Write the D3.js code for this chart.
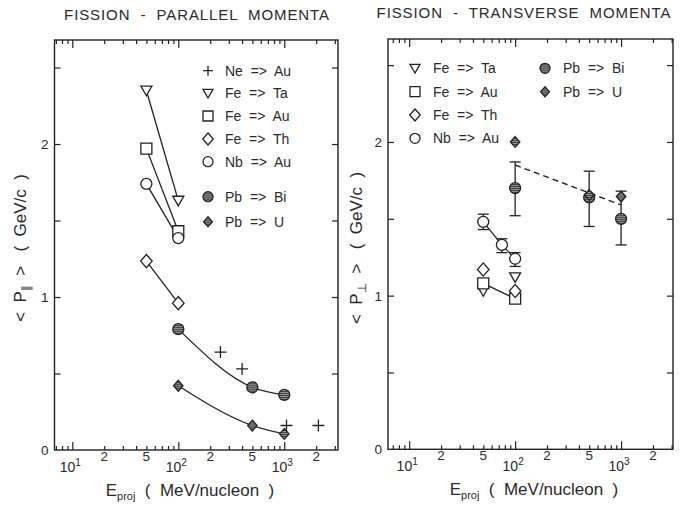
<!DOCTYPE html>
<html>
<head>
<meta charset="utf-8">
<script src="https://cdn.jsdelivr.net/npm/d3@7"></script>
<style>
  html, body { margin: 0; padding: 0; background: #fff; }
  svg { display: block; }
  text { font-family: "Liberation Sans", "DejaVu Sans", sans-serif; fill: #2a2a2a; }
</style>
</head>
<body>
<svg id="chart" width="682" height="509"></svg>
<script>
// ---- data (energies in MeV/nucleon, momenta in GeV/c) ----
const energyFe = [50, 100];
const energyNb = [50, 75, 100];
const energyPb = [100, 500, 1000];
const energyNe = [250, 400, 1050, 2100];

// parallel momenta
const parNeAu = [0.64, 0.53, 0.16, 0.16];
const parFeTa = [2.35, 1.63];
const parFeAu = [1.97, 1.43];
const parFeTh = [1.235, 0.96];
const parNbAu = [1.74, 1.385];
const parPbBi = [0.79, 0.41, 0.36];
const parPbU  = [0.42, 0.16, 0.105];

// transverse momenta
const trFeTa = [1.03, 1.12];
const trFeAu = [1.08, 0.98];
const trFeTh = [1.17, 1.03];
const trNbAu = [1.48, 1.33, 1.24];
const trNbAuLo = [1.43, 1.28, 1.19];
const trNbAuHi = [1.53, 1.37, 1.28];
const trPbBi = [1.70, 1.64, 1.50];
const trPbBiLo = [1.52, 1.45, 1.33];
const trPbBiHi = [1.87, 1.81, 1.68];
const trPbU  = [2.00, 1.655, 1.645];
const fitE = [100, 1000];
const fitP = [1.85, 1.59];

const yTicks = [0, 0.5, 1, 1.5, 2, 2.5];
const yTickLabels = [0, 1, 2];
const xMajor = [10, 100, 1000];
const xMinorLabels = [20, 50, 200, 500, 2000];

const svg = d3.select("#chart");
const INK = "#222";

// hatched fill for the Pb projectile markers
const defs = svg.append("defs");
const pat = defs.append("pattern").attr("id", "hatch").attr("patternUnits", "userSpaceOnUse")
  .attr("width", 2).attr("height", 2);
pat.append("rect").attr("width", 2).attr("height", 2).attr("fill", "#9a9a9a");
pat.append("rect").attr("width", 2).attr("height", 1).attr("fill", "#3a3a3a");

// ---- marker shapes ----
function markerPath(type, r) {
  switch (type) {
    case "tri": return `M${-r},${-r*0.8}L${r},${-r*0.8}L0,${r*0.95}Z`;
    case "sq": return `M${-r},${-r}H${r}V${r}H${-r}Z`;
    case "dia": return `M0,${-r*1.2}L${r*1.05},0L0,${r*1.2}L${-r*1.05},0Z`;
    case "circ": return d3.arc()({innerRadius: 0, outerRadius: r, startAngle: 0, endAngle: 2 * Math.PI});
    case "cross": return `M${-r},0H${r}M0,${-r}V${r}`;
  }
}
function drawMarker(g, type, x, y, opts = {}) {
  const r = opts.r || 5.5;
  g.append("path")
    .attr("d", markerPath(type, r))
    .attr("transform", `translate(${x},${y})`)
    .attr("fill", opts.fill || (type === "cross" ? "none" : "#fff"))
    .attr("stroke", INK)
    .attr("stroke-width", opts.sw || 1.3);
}

// ---- one panel ----
function panel(cfg) {
  const g = svg.append("g");
  const x = d3.scaleLog().domain(cfg.xDom).range([cfg.x0, cfg.x1]);
  const y = d3.scaleLinear().domain(cfg.yDom).range([cfg.yBot, cfg.yTop]);

  // frame
  g.append("rect").attr("x", cfg.x0).attr("y", cfg.yTop)
    .attr("width", cfg.x1 - cfg.x0).attr("height", cfg.yBot - cfg.yTop)
    .attr("fill", "none").attr("stroke", INK).attr("stroke-width", 1.4);

  const minor = x.ticks().filter(d => !xMajor.includes(d));
  const addAxis = (axisGen, values, size, tr) => {
    const a = g.append("g").attr("transform", tr)
      .call(axisGen.tickValues(values).tickSize(size).tickFormat(""));
    a.select(".domain").remove();
    a.selectAll("line").attr("stroke", INK).attr("stroke-width", 1.2);
  };
  addAxis(d3.axisBottom(x), minor, -4, `translate(0,${cfg.yBot})`);
  addAxis(d3.axisBottom(x), xMajor, -8, `translate(0,${cfg.yBot})`);
  addAxis(d3.axisTop(x), minor, -4, `translate(0,${cfg.yTop})`);
  addAxis(d3.axisTop(x), xMajor, -8, `translate(0,${cfg.yTop})`);
  addAxis(d3.axisLeft(y), yTicks.filter(d => d > 0), -6, `translate(${cfg.x0},0)`);
  addAxis(d3.axisRight(y), yTicks.filter(d => d > 0), -6, `translate(${cfg.x1},0)`);

  // y tick labels
  yTickLabels.forEach(v => {
    g.append("text").attr("x", cfg.x0 - 6).attr("y", y(v) + 5)
      .attr("text-anchor", "end").attr("font-size", 13.5).text(v);
  });
  // x tick labels
  xMajor.forEach(v => {
    const t = g.append("text").attr("x", x(v) - 2).attr("y", cfg.yBot + 22)
      .attr("text-anchor", "middle").attr("font-size", 14);
    t.append("tspan").text("10");
    t.append("tspan").attr("font-size", 10).attr("dy", -6).text(Math.round(Math.log10(v)));
  });
  xMinorLabels.forEach(v => {
    g.append("text").attr("x", x(v)).attr("y", cfg.yBot + 11)
      .attr("text-anchor", "middle").attr("font-size", 13.5)
      .text(String(v)[0]);
  });

  // axis titles
  const xt = g.append("text").attr("x", cfg.xTitleX).attr("y", cfg.yBot + 46)
    .attr("text-anchor", "middle").attr("font-size", 17).attr("xml:space", "preserve");
  xt.append("tspan").text("E");
  xt.append("tspan").attr("font-size", 11).attr("dy", 4).text("proj");
  xt.append("tspan").attr("dy", -4).text("  (  MeV/nucleon  )");

  const yt = g.append("text")
    .attr("transform", `translate(${cfg.yTitleX},${cfg.yTitleY}) rotate(-90)`)
    .attr("text-anchor", "middle").attr("font-size", 17).attr("xml:space", "preserve");
  yt.append("tspan").text("<  P");
  yt.append("tspan").attr("font-size", 12).attr("dy", 4).text(cfg.sub);
  yt.append("tspan").attr("dy", -4).text("  >   (  GeV/c  )");

  // panel title
  g.append("text").attr("x", cfg.titleX).attr("y", cfg.titleY)
    .attr("text-anchor", "middle").attr("font-size", 15)
    .attr("letter-spacing", 0.9).attr("xml:space", "preserve").text(cfg.title);

  return {g, x, y};
}

const L = panel({
  xDom: [Math.pow(10, 0.832), Math.pow(10, 3.507)], x0: 54.5, x1: 338,
  yDom: [0, 2.68], yBot: 450, yTop: 40,
  xTitleX: 190, yTitleX: 26, yTitleY: 248, sub: "∥",
  title: "FISSION  -  PARALLEL  MOMENTA", titleX: 197, titleY: 20
});
const R = panel({
  xDom: [Math.pow(10, 0.8), Math.pow(10, 3.49)], x0: 388, x1: 673,
  yDom: [0, 2.67], yBot: 449.3, yTop: 39,
  xTitleX: 534, yTitleX: 362, yTitleY: 248, sub: "⊥",
  title: "FISSION  -  TRANSVERSE  MOMENTA", titleX: 524, titleY: 18
});

// ---- left panel: parallel momenta ----
(function () {
  const {g, x, y} = L;
  const straight = d3.line().x(d => x(d[0])).y(d => y(d[1]));
  const smooth = d3.line().x(d => x(d[0])).y(d => y(d[1])).curve(d3.curveMonotoneX);
  const zip = (e, v) => e.map((d, i) => [d, v[i]]);
  [parFeTa, parFeAu, parFeTh, parNbAu].forEach(v =>
    g.append("path").attr("d", straight(zip(energyFe, v))).attr("fill", "none")
      .attr("stroke", INK).attr("stroke-width", 1.3));
  [parPbBi, parPbU].forEach(v =>
    g.append("path").attr("d", smooth(zip(energyPb, v))).attr("fill", "none")
      .attr("stroke", INK).attr("stroke-width", 1.3));

  energyNe.forEach((e, i) => drawMarker(g, "cross", x(e), y(parNeAu[i]), {r: 6}));
  energyFe.forEach((e, i) => {
    drawMarker(g, "tri", x(e), y(parFeTa[i]), {r: 5.5});
    drawMarker(g, "sq", x(e), y(parFeAu[i]), {r: 5.5});
    drawMarker(g, "dia", x(e), y(parFeTh[i]), {r: 5.5});
    drawMarker(g, "circ", x(e), y(parNbAu[i]), {r: 5.5});
  });
  energyPb.forEach((e, i) => {
    drawMarker(g, "circ", x(e), y(parPbBi[i]), {r: 5.5, fill: "url(#hatch)"});
    drawMarker(g, "dia", x(e), y(parPbU[i]), {r: 4.5, fill: "url(#hatch)"});
  });

  // legend
  const items = [
    ["cross", "Ne", "Au", 70.7, null], ["tri", "Fe", "Ta", 93.3, null],
    ["sq", "Fe", "Au", 116, null], ["dia", "Fe", "Th", 139, null],
    ["circ", "Nb", "Au", 161.7, null], ["circ", "Pb", "Bi", 196.7, "url(#hatch)"],
    ["dia", "Pb", "U", 221.7, "url(#hatch)"]
  ];
  items.forEach(([t, a, b, yy, f]) => {
    drawMarker(g, t, 208, yy, {r: t === "dia" && f ? 4.2 : 5, fill: f || undefined});
    g.append("text").attr("x", 225).attr("y", yy + 5).attr("font-size", 14)
      .attr("xml:space", "preserve").text(`${a}  =>  ${b}`);
  });
})();

// ---- right panel: transverse momenta ----
(function () {
  const {g, x, y} = R;
  const straight = d3.line().x(d => x(d[0])).y(d => y(d[1]));
  const zip = (e, v) => e.map((d, i) => [d, v[i]]);

  // dashed systematic trend for the Pb data
  g.append("path").attr("d", straight(zip(fitE, fitP))).attr("fill", "none")
    .attr("stroke", INK).attr("stroke-width", 1.4).attr("stroke-dasharray", "6,4");

  g.append("path").attr("d", straight(zip(energyNb, trNbAu))).attr("fill", "none")
    .attr("stroke", INK).attr("stroke-width", 1.3);
  g.append("path").attr("d", straight(zip(energyFe, trFeAu))).attr("fill", "none")
    .attr("stroke", INK).attr("stroke-width", 1.3);

  const errBar = (xe, lo, hi, cap) => {
    g.append("line").attr("x1", x(xe)).attr("x2", x(xe)).attr("y1", y(lo)).attr("y2", y(hi))
      .attr("stroke", INK).attr("stroke-width", 1.3);
    [lo, hi].forEach(v => g.append("line").attr("x1", x(xe) - cap).attr("x2", x(xe) + cap)
      .attr("y1", y(v)).attr("y2", y(v)).attr("stroke", INK).attr("stroke-width", 1.3));
  };
  energyNb.forEach((e, i) => errBar(e, trNbAuLo[i], trNbAuHi[i], 5.5));
  energyPb.forEach((e, i) => errBar(e, trPbBiLo[i], trPbBiHi[i], 5.5));

  energyFe.forEach((e, i) => {
    drawMarker(g, "tri", x(e), y(trFeTa[i]), {r: 5.5});
    drawMarker(g, "sq", x(e), y(trFeAu[i]), {r: 5.5});
    drawMarker(g, "dia", x(e), y(trFeTh[i]), {r: 5.5});
  });
  energyNb.forEach((e, i) => drawMarker(g, "circ", x(e), y(trNbAu[i]), {r: 5.5}));
  energyPb.forEach((e, i) => {
    drawMarker(g, "circ", x(e), y(trPbBi[i]), {r: 5.5, fill: "url(#hatch)"});
    drawMarker(g, "dia", x(e), y(trPbU[i]), {r: 4.5, fill: "url(#hatch)"});
  });

  // legend
  const items = [
    ["tri", "Fe", "Ta", 415, 68.3, null], ["sq", "Fe", "Au", 415, 91.7, null],
    ["dia", "Fe", "Th", 415, 115, null], ["circ", "Nb", "Au", 415, 138.3, null],
    ["circ", "Pb", "Bi", 545, 68.3, "url(#hatch)"], ["dia", "Pb", "U", 545, 91.7, "url(#hatch)"]
  ];
  items.forEach(([t, a, b, xx, yy, f]) => {
    drawMarker(g, t, xx, yy, {r: f ? (t === "dia" ? 4.2 : 5) : 5, fill: f || undefined});
    g.append("text").attr("x", xx + 18).attr("y", yy + 5).attr("font-size", 14)
      .attr("xml:space", "preserve").text(`${a}  =>  ${b}`);
  });
})();
</script>
</body>
</html>
